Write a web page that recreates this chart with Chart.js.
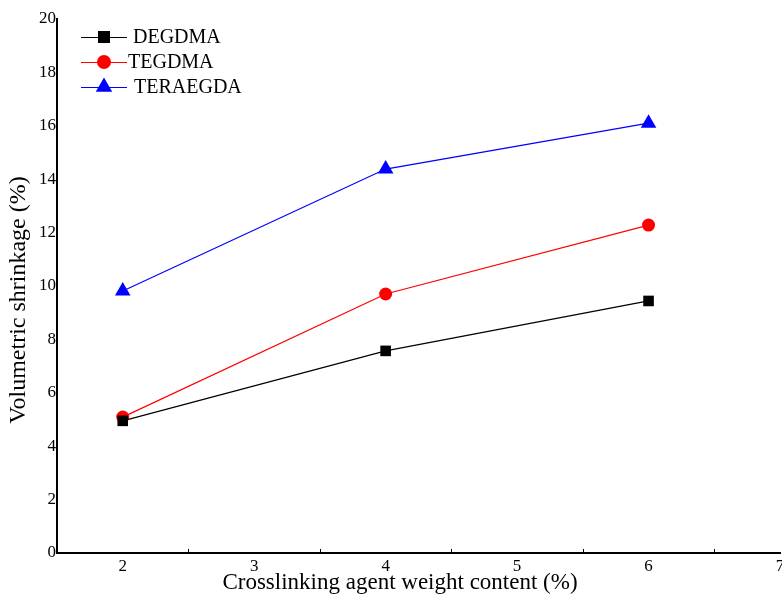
<!DOCTYPE html>
<html>
<head>
<meta charset="utf-8">
<script src="https://cdn.jsdelivr.net/npm/chart.js@4/dist/chart.umd.min.js"></script>
<style>
  html, body { margin: 0; padding: 0; background: #fff; }
  #wrap { width: 782px; height: 597px; }
</style>
</head>
<body>
<div id="wrap"><canvas id="myChart"></canvas></div>
<script>
   // weight content (%) of crosslinking agent
   var content = [2, 4, 6]
   var degdma = [4.95, 7.57, 9.44]
   var tegdma = [5.09, 9.70, 12.28]
   var teraegda = [9.81, 14.38, 16.10]
   var xTicks = [2, 3, 4, 5, 6, 7]
   var xMinorTicks = [2.5, 3.5, 4.5, 5.5, 6.5]
   var yTicks = [0, 2, 4, 6, 8, 10, 12, 14, 16, 18, 20]
   var xTitle = 'Crosslinking agent weight content (%)'
   var yTitle = 'Volumetric shrinkage (%)'

   var FONT = "'Liberation Serif', 'Times New Roman', serif"

   function points(ys) {
     return content.map(function (x, i) { return {x: x, y: ys[i]} })
   }

   // little upward ticks between the numbered x positions
   var minorTicks = {
     id: 'minorTicks',
     afterDraw: function (chart) {
       var ctx = chart.ctx, xs = chart.scales.x, y0 = chart.chartArea.bottom
       ctx.save()
       ctx.strokeStyle = '#000'
       ctx.lineWidth = 1
       xMinorTicks.forEach(function (v) {
         var px = Math.round(xs.getPixelForValue(v)) + 0.5
         ctx.beginPath()
         ctx.moveTo(px, y0)
         ctx.lineTo(px, y0 - 4)
         ctx.stroke()
       })
       ctx.restore()
     }
   }

   // axis titles sit a bit off-centre in the original, so place them by hand
   var axisTitles = {
     id: 'axisTitles',
     afterDraw: function (chart) {
       var ctx = chart.ctx
       ctx.save()
       ctx.fillStyle = '#000'
       ctx.textAlign = 'center'
       ctx.textBaseline = 'middle'
       ctx.font = '23px ' + FONT
       ctx.fillText(xTitle, 400, 583)
       ctx.font = '24px ' + FONT
       ctx.translate(19, 300)
       ctx.rotate(-Math.PI / 2)
       ctx.fillText(yTitle, 0, 0)
       ctx.restore()
     }
   }

   // legend drawn inside the plot, line + marker like the original
   var insideLegend = {
     id: 'insideLegend',
     afterDraw: function (chart) {
       var ctx = chart.ctx
       ctx.save()
       ctx.font = '20px ' + FONT
       ctx.textBaseline = 'middle'
       var textX = [133, 128, 134]
       var sizes = [8.5, 7, 9.5]
       chart.data.datasets.forEach(function (ds, i) {
         var y = 37 + i * 25
         ctx.strokeStyle = ds.borderColor
         ctx.lineWidth = 1
         ctx.beginPath()
         ctx.moveTo(81, y + 0.5)
         ctx.lineTo(127, y + 0.5)
         ctx.stroke()
         ctx.fillStyle = ds.pointBackgroundColor
         ctx.strokeStyle = ds.pointBackgroundColor
         Chart.helpers.drawPoint(ctx, {
           pointStyle: ds.pointStyle,
           radius: sizes[i],
           rotation: 0,
           borderWidth: 0
         }, 104, y)
         ctx.fillStyle = '#000'
         ctx.fillText(ds.label, textX[i], y + 1)
       })
       ctx.restore()
     }
   }

   function makeChart() {
     var ctx = document.getElementById('myChart').getContext('2d')
     new Chart(ctx, {
       type: 'line',
       data: {
         datasets: [{
           label: 'DEGDMA',
           data: points(degdma),
           borderColor: '#000000',
           backgroundColor: '#000000',
           pointBackgroundColor: '#000000',
           pointStyle: 'rect',
           pointRadius: 7.5,
           pointBorderWidth: 0,
           borderWidth: 1.2
         }, {
           label: 'TEGDMA',
           data: points(tegdma),
           borderColor: '#ff0000',
           backgroundColor: '#ff0000',
           pointBackgroundColor: '#ff0000',
           pointStyle: 'circle',
           pointRadius: 6.5,
           pointBorderWidth: 0,
           borderWidth: 1.2
         }, {
           label: 'TERAEGDA',
           data: points(teraegda),
           borderColor: '#0000ff',
           backgroundColor: '#0000ff',
           pointBackgroundColor: '#0000ff',
           pointStyle: 'triangle',
           pointRadius: 9,
           pointBorderWidth: 0,
           borderWidth: 1.2
         }]
       },
       options: {
         responsive: true,
         maintainAspectRatio: false,
         animation: false,
         layout: { autoPadding: false, padding: { top: 19, right: 2, left: 0, bottom: 0 } },
         plugins: {
           legend: { display: false },
           tooltip: { enabled: false }
         },
         scales: {
           x: {
             type: 'linear',
             min: 1.5,
             max: 7,
             afterBuildTicks: function (s) { s.ticks = xTicks.map(function (v) { return {value: v} }) },
             afterFit: function (s) { s.height = 44; s.paddingLeft = 0; s.paddingRight = 0 },
             grid: { display: false, drawTicks: false },
             border: { display: true, color: '#000', width: 2 },
             ticks: { color: '#000', padding: 3, font: { family: FONT, size: 17 } }
           },
           y: {
             min: 0,
             max: 20,
             afterBuildTicks: function (s) { s.ticks = yTicks.map(function (v) { return {value: v} }) },
             afterFit: function (s) { s.width = 57; s.paddingTop = 0; s.paddingBottom = 0 },
             grid: { display: false, drawTicks: false },
             border: { display: true, color: '#000', width: 2 },
             ticks: { color: '#000', padding: 1, font: { family: FONT, size: 17 } }
           }
         }
       },
       plugins: [minorTicks, axisTitles, insideLegend]
     })
   }

   makeChart()
</script>
</body>
</html>
